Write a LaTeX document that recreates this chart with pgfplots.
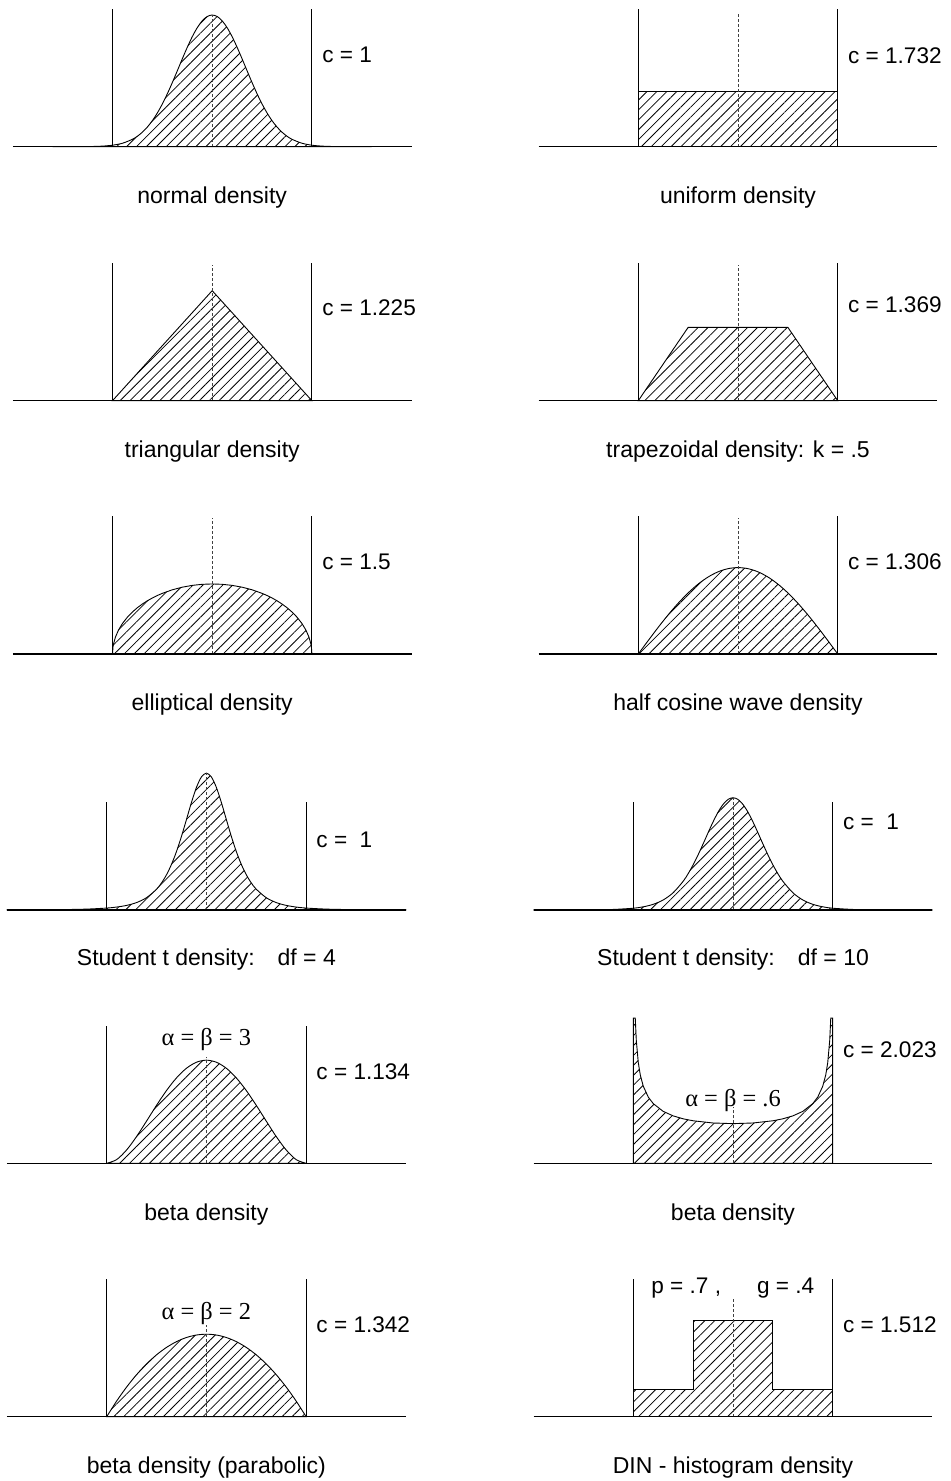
\documentclass[border=0pt]{standalone}
\usepackage{fontspec}
\setmainfont{Liberation Sans}
\newfontfamily\grk{Liberation Serif}
\usepackage{pgfplots}
\pgfplotsset{compat=1.18}
\usetikzlibrary{patterns.meta}

% one panel: x in units of the half support, y in density units
\pgfplotsset{
  dens/.style={hide axis, scale only axis, x=49.85pt, y=55pt,
    xmin=-2, xmax=2, ymin=0, ymax=1.4, clip=false, anchor=origin},
  hatch/.style={draw=black, line width=0.45pt,
    pattern={Lines[angle=45,distance=3.5pt,line width=0.4pt]}},
  vl/.style={black, line width=0.5pt},
  bl/.style={black, line width=0.65pt},
  ml/.style={black!75, line width=0.4pt, dash pattern=on 1.5pt off 1pt},
}
\tikzset{
  lbl/.style={font=\fontsize{11.3}{13}\selectfont, inner sep=0pt},
  ttl/.style={font=\fontsize{11.5}{13}\selectfont, inner sep=0pt},
  gk/.style={font=\grk\fontsize{12.2}{14}\selectfont, inner sep=0pt},
}
\newcommand{\vlines}[1]{\addplot[vl] coordinates {(-1,0) (-1,#1)};
  \addplot[vl] coordinates {(1,0) (1,#1)};}
\newcommand{\bline}{\addplot[bl] coordinates {(-2,0) (2,0)};}
\newcommand{\mline}[1]{\addplot[ml] coordinates {(0,0) (0,#1)};}

\begin{document}
\begin{tikzpicture}
\path[use as bounding box] (0,0) rectangle (475pt,740.5pt);

% ---- row 1
\begin{axis}[dens, at={(106.1pt,667.15pt)}]
\addplot[hatch, smooth] coordinates {
  (-1.6,0) (-1.4,0.0001) (-1.3,0.0006) (-1.2,0.0018) (-1.1,0.0052) (-1,0.0133)
  (-0.9,0.0313) (-0.8,0.0672) (-0.75,0.0952) (-0.7,0.1320) (-0.65,0.1788)
  (-0.6,0.2369) (-0.55,0.3068) (-0.5,0.3886) (-0.45,0.4811) (-0.4,0.5826)
  (-0.35,0.6896) (-0.3,0.7983) (-0.25,0.9034) (-0.2,0.9997) (-0.15,1.0816)
  (-0.1,1.1441) (-0.05,1.1834) (0,1.1968) (0.05,1.1834) (0.1,1.1441)
  (0.15,1.0816) (0.2,0.9997) (0.25,0.9034) (0.3,0.7983) (0.35,0.6896)
  (0.4,0.5826) (0.45,0.4811) (0.5,0.3886) (0.55,0.3068) (0.6,0.2369)
  (0.65,0.1788) (0.7,0.1320) (0.75,0.0952) (0.8,0.0672) (0.9,0.0313)
  (1,0.0133) (1.1,0.0052) (1.2,0.0018) (1.3,0.0006) (1.4,0.0001) (1.6,0)
} \closedcycle;
\mline{1.197}
\vlines{1.25}
\bline
\node[lbl, anchor=west, yshift=45.9pt] at (1.1,0) {c = 1};
\node[ttl, yshift=-25.5pt] at (0,0) {normal density};
\end{axis}

\begin{axis}[dens, at={(369pt,667.15pt)}]
\addplot[hatch] coordinates {(-1,0) (-1,0.5) (1,0.5) (1,0)} \closedcycle;
\mline{1.222}
\vlines{1.25}
\bline
\node[lbl, anchor=west, yshift=45.4pt] at (1.1,0) {c = 1.732};
\node[ttl, yshift=-25.5pt] at (0,0) {uniform density};
\end{axis}

% ---- row 2
\begin{axis}[dens, at={(106.1pt,540.15pt)}]
\addplot[hatch] coordinates {(-1,0) (0,1) (1,0)} \closedcycle;
\mline{1.234}
\vlines{1.25}
\bline
\node[lbl, anchor=west, yshift=46.7pt] at (1.1,0) {c = 1.225};
\node[ttl, yshift=-25.5pt] at (0,0) {triangular density};
\end{axis}

\begin{axis}[dens, at={(369pt,540.15pt)}]
\addplot[hatch] coordinates {(-1,0) (-0.5,0.6667) (0.5,0.6667) (1,0)} \closedcycle;
\mline{1.23}
\vlines{1.25}
\bline
\node[lbl, anchor=west, yshift=47.9pt] at (1.1,0) {c = 1.369};
\node[ttl, yshift=-25.5pt] at (0,0) {trapezoidal density: k = .5};
\end{axis}

% ---- row 3
\begin{axis}[dens, at={(106.1pt,413.5pt)}]
\addplot[hatch] coordinates {
  (-1,0) (-0.995,0.0636) (-0.99,0.0898) (-0.97,0.1548) (-0.94,0.2172)
  (-0.9,0.2775) (-0.85,0.3354) (-0.8,0.3820) (-0.75,0.4211) (-0.7,0.4546)
  (-0.65,0.4838) (-0.6,0.5093) (-0.55,0.5317) (-0.5,0.5513) (-0.4,0.5835)
  (-0.3,0.6073) (-0.2,0.6237) (-0.1,0.6334) (0,0.6366) (0.1,0.6334)
  (0.2,0.6237) (0.3,0.6073) (0.4,0.5835) (0.5,0.5513) (0.55,0.5317)
  (0.6,0.5093) (0.65,0.4838) (0.7,0.4546) (0.75,0.4211) (0.8,0.3820)
  (0.85,0.3354) (0.9,0.2775) (0.94,0.2172) (0.97,0.1548) (0.99,0.0898)
  (0.995,0.0636) (1,0)
} \closedcycle;
\mline{1.236}
\vlines{1.25}
\bline
\node[lbl, anchor=west, yshift=46.2pt] at (1.1,0) {c = 1.5};
\node[ttl, yshift=-25.5pt] at (0,0) {elliptical density};
\end{axis}

\begin{axis}[dens, at={(369pt,413.5pt)}]
\addplot[hatch, smooth] coordinates {
  (-1,0) (-0.9,0.1229) (-0.8,0.2427) (-0.7,0.3566) (-0.6,0.4616) (-0.5,0.5554)
  (-0.4,0.6354) (-0.3,0.6998) (-0.2,0.7470) (-0.1,0.7757) (0,0.7854)
  (0.1,0.7757) (0.2,0.7470) (0.3,0.6998) (0.4,0.6354) (0.5,0.5554)
  (0.6,0.4616) (0.7,0.3566) (0.8,0.2427) (0.9,0.1229) (1,0)
} \closedcycle;
\mline{1.234}
\vlines{1.25}
\bline
\node[lbl, anchor=west, yshift=46.2pt] at (1.1,0) {c = 1.306};
\node[ttl, yshift=-25.5pt] at (0,0) {half cosine wave density};
\end{axis}

% ---- row 4 (smaller vertical scale)
\begin{axis}[dens, y=43pt, ymax=1.7, at={(103.2pt,285.5pt)}]
\addplot[hatch, smooth] coordinates {
  (-2,0.0010) (-1.8,0.0017) (-1.6,0.0029) (-1.4,0.0053) (-1.2,0.0104)
  (-1,0.0224) (-0.9,0.0342) (-0.8,0.0536) (-0.7,0.0865) (-0.6,0.1432)
  (-0.5,0.2417) (-0.45,0.3151) (-0.4,0.4100) (-0.35,0.5309) (-0.3,0.6799)
  (-0.25,0.8562) (-0.2,1.0519) (-0.15,1.2501) (-0.1,1.4252) (-0.05,1.5471)
  (0,1.591) (0.05,1.5471) (0.1,1.4252) (0.15,1.2501) (0.2,1.0519)
  (0.25,0.8562) (0.3,0.6799) (0.35,0.5309) (0.4,0.4100) (0.45,0.3151)
  (0.5,0.2417) (0.6,0.1432) (0.7,0.0865) (0.8,0.0536) (0.9,0.0342)
  (1,0.0224) (1.2,0.0104) (1.4,0.0053) (1.6,0.0029) (1.8,0.0017) (2,0.0010)
} \closedcycle;
\mline{1.591}
\vlines{1.25}
\bline
\node[lbl, anchor=west, yshift=35pt] at (1.1,0) {c =\hspace{0.55em}1};
\node[ttl, yshift=-25pt] at (0,0) {Student t density:\hspace{1em}df = 4};
\end{axis}

\begin{axis}[dens, y=43pt, ymax=1.7, at={(366.5pt,285.5pt)}]
\addplot[hatch, smooth] coordinates {
  (-2,0.0001) (-1.6,0.0008) (-1.4,0.0022) (-1.2,0.0065) (-1,0.0206)
  (-0.9,0.0370) (-0.8,0.0661) (-0.7,0.1166) (-0.6,0.2010) (-0.5,0.3338)
  (-0.45,0.4220) (-0.4,0.5251) (-0.35,0.6416) (-0.3,0.7679) (-0.25,0.8981)
  (-0.2,1.0246) (-0.15,1.1376) (-0.1,1.2274) (-0.05,1.2853) (0,1.3053)
  (0.05,1.2853) (0.1,1.2274) (0.15,1.1376) (0.2,1.0246) (0.25,0.8981)
  (0.3,0.7679) (0.35,0.6416) (0.4,0.5251) (0.45,0.4220) (0.5,0.3338)
  (0.6,0.2010) (0.7,0.1166) (0.8,0.0661) (0.9,0.0370) (1,0.0206)
  (1.2,0.0065) (1.4,0.0022) (1.6,0.0008) (2,0.0001)
} \closedcycle;
\mline{1.305}
\vlines{1.25}
\bline
\node[lbl, anchor=west, yshift=44.2pt] at (1.1,0) {c =\hspace{0.55em}1};
\node[ttl, yshift=-25pt] at (0,0) {Student t density:\hspace{1em}df = 10};
\end{axis}

% ---- row 5
\begin{axis}[dens, at={(103.2pt,158.85pt)}]
\addplot[hatch, smooth] coordinates {
  (-1,0) (-0.9,0.0338) (-0.8,0.1215) (-0.7,0.2438) (-0.6,0.3840) (-0.5,0.5273)
  (-0.4,0.6615) (-0.3,0.7763) (-0.2,0.8640) (-0.1,0.9188) (0,0.9375)
  (0.1,0.9188) (0.2,0.8640) (0.3,0.7763) (0.4,0.6615) (0.5,0.5273)
  (0.6,0.3840) (0.7,0.2438) (0.8,0.1215) (0.9,0.0338) (1,0)
} \closedcycle;
\mline{0.969}
\vlines{1.25}
\bline
\node[gk, yshift=62pt] at (0,0) {α = β = 3};
\node[lbl, anchor=west, yshift=45.8pt] at (1.1,0) {c = 1.134};
\node[ttl, yshift=-25.5pt] at (0,0) {beta density};
\end{axis}

\begin{axis}[dens, at={(366.5pt,158.85pt)}]
\addplot[hatch] coordinates {
  (-1,0) (-1,1.32) (-0.981,1.32) (-0.98,1.3123) (-0.97,1.1174) (-0.95,0.9148)
  (-0.93,0.8026) (-0.9,0.7007) (-0.85,0.6019) (-0.8,0.5425) (-0.7,0.4719)
  (-0.6,0.4309) (-0.5,0.4044) (-0.4,0.3865) (-0.2,0.3664) (0,0.3605)
  (0.2,0.3664) (0.4,0.3865) (0.5,0.4044) (0.6,0.4309) (0.7,0.4719)
  (0.8,0.5425) (0.85,0.6019) (0.9,0.7007) (0.93,0.8026) (0.95,0.9148)
  (0.97,1.1174) (0.98,1.3123) (0.981,1.32) (1,1.32) (1,0)
} \closedcycle;
\mline{0.515}
\vlines{1.32}
\bline
\node[gk, yshift=31.3pt] at (0,0) {α = β = .6};
\node[lbl, anchor=west, yshift=56.7pt] at (1.1,0) {c = 2.023};
\node[ttl, yshift=-25.5pt] at (0,0) {beta density};
\end{axis}

% ---- row 6
\begin{axis}[dens, at={(103.2pt,32.15pt)}]
\addplot[hatch, smooth] coordinates {
  (-1,0) (-0.9,0.1425) (-0.8,0.27) (-0.7,0.3825) (-0.6,0.48) (-0.5,0.5625)
  (-0.4,0.63) (-0.3,0.6825) (-0.2,0.72) (-0.1,0.7425) (0,0.75)
  (0.1,0.7425) (0.2,0.72) (0.3,0.6825) (0.4,0.63) (0.5,0.5625)
  (0.6,0.48) (0.7,0.3825) (0.8,0.27) (0.9,0.1425) (1,0)
} \closedcycle;
\mline{0.834}
\vlines{1.25}
\bline
\node[gk, yshift=51.7pt] at (0,0) {α = β = 2};
\node[lbl, anchor=west, yshift=46.2pt] at (1.1,0) {c = 1.342};
\node[ttl, yshift=-25.5pt] at (0,0) {beta density (parabolic)};
\end{axis}

\begin{axis}[dens, at={(366.5pt,32.15pt)}]
\addplot[hatch] coordinates {
  (-1,0) (-1,0.25) (-0.4,0.25) (-0.4,0.875) (0.4,0.875) (0.4,0.25) (1,0.25) (1,0)
} \closedcycle;
\mline{1.076}
\vlines{1.25}
\bline
\node[lbl, anchor=base west, yshift=61.7pt] at (-0.823,0) {p = .7 ,};
\node[lbl, anchor=base west, yshift=61.7pt] at (0.238,0) {g = .4};
\node[lbl, anchor=west, yshift=45.9pt] at (1.1,0) {c = 1.512};
\node[ttl, yshift=-25.5pt] at (0,0) {DIN - histogram density};
\end{axis}
\end{tikzpicture}
\end{document}
